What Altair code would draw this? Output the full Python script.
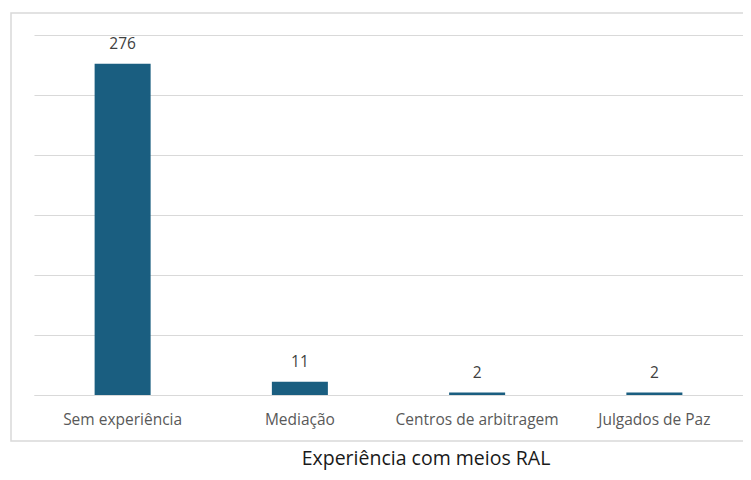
import altair as alt
import pandas as pd

categories = ["Sem experiência", "Mediação", "Centros de arbitragem", "Julgados de Paz"]
values = [276, 11, 2, 2]
y_ticks = [0, 50, 100, 150, 200, 250, 300]
title_text = "Experiência com meios RAL"

df = pd.DataFrame({"cat": categories, "val": values})

FONT = "Open Sans"
x_enc = alt.X("cat:N", sort=categories, title=None,
              scale=alt.Scale(paddingInner=0.684, paddingOuter=0.342),
              axis=alt.Axis(labelAngle=0, labelFont=FONT, labelFontSize=15.5,
                            labelColor="#595959", labelPadding=17, ticks=False,
                            domainColor="#d9d9d9", domainWidth=1.2, grid=False))
y_enc = alt.Y("val:Q", title=None,
              scale=alt.Scale(domain=[0, 300], nice=False),
              axis=alt.Axis(values=y_ticks, labels=False, ticks=False, domain=False,
                            grid=True, gridColor="#d9d9d9", gridWidth=1.2))

base = alt.Chart(df)
bars = base.mark_bar(color="#1a5e80").encode(x=x_enc, y=y_enc)
labels = base.mark_text(dy=-12, font=FONT, fontSize=15.5, color="#404040",
                        baseline="bottom").encode(
    x=alt.X("cat:N", sort=categories), y="val:Q", text="val:Q")

border = alt.Chart(pd.DataFrame({"a": [0]})).mark_rect(
    fill=None, stroke="#d9d9d9", strokeWidth=1.5).encode(
    x=alt.value(-23), x2=alt.value(730), y=alt.value(-22), y2=alt.value(406))

title = alt.Chart(pd.DataFrame({"t": [title_text]})).mark_text(
    font=FONT, fontSize=19.5, color="#1a1a1a", align="center",
    baseline="alphabetic").encode(
    x=alt.value(392), y=alt.value(430), text="t:N")

chart = alt.layer(border, bars, labels, title).properties(
    width=709, height=360,
    autosize=alt.AutoSizeParams(type="none"),
    padding={"left": 26, "top": 27, "right": 0, "bottom": 77},
).configure(background="white").configure_view(stroke=None)

chart.save("out.html", embed_options={"renderer": "svg", "actions": False})
